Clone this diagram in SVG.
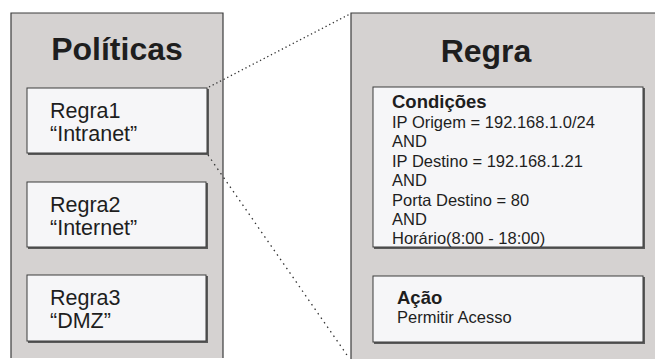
<svg xmlns="http://www.w3.org/2000/svg" width="655" height="359" viewBox="0 0 655 359">
<style>
.panel{fill:#d5d2d1}
.edge{stroke:#3c3c3c;stroke-width:1.2;fill:none}
.box{fill:#f6f6f8;stroke:#3c3c3c;stroke-width:1}
.shadow{fill:#5a5a5a}
.title{font-family:"Liberation Sans",Arial,sans-serif;font-weight:bold;font-size:32px;fill:#1e1e1e;text-anchor:middle}
.lbl{font-family:"Liberation Sans",Arial,sans-serif;font-size:21.5px;fill:#1e1e1e}
.cond{font-family:"Liberation Sans",Arial,sans-serif;font-size:16.5px;fill:#1e1e1e}
.b{font-weight:bold;font-size:18.5px}
.dot{stroke:#333;stroke-width:1.3;fill:none}
</style>
<rect width="655" height="359" fill="#ffffff"/>
<g id="politicas">
<rect class="panel" x="11" y="13" width="212" height="345"/>
<path class="edge" d="M11,358 V13 H223 V358"/>
<text class="title" x="117" y="60">Políticas</text>
</g>
<g id="regra-panel">
<rect class="panel" x="351" y="13" width="304" height="346"/>
<path class="edge" d="M351,359 V13 H655"/>
<text class="title" x="486" y="62">Regra</text>
</g>
<g id="regra1">
<rect class="shadow" x="28" y="89" width="181" height="66"/>
<rect class="box" x="27" y="88" width="180" height="65"/>
<text class="lbl" x="50" y="118">Regra1</text>
<text class="lbl" x="50" y="141">“Intranet”</text>
</g>
<g id="regra2">
<rect class="shadow" x="28" y="183" width="180" height="66"/>
<rect class="box" x="27" y="182" width="179" height="65"/>
<text class="lbl" x="50" y="212">Regra2</text>
<text class="lbl" x="50" y="235">“Internet”</text>
</g>
<g id="regra3">
<rect class="shadow" x="28" y="276" width="180" height="67"/>
<rect class="box" x="27" y="275" width="179" height="66"/>
<text class="lbl" x="50" y="305">Regra3</text>
<text class="lbl" x="50" y="328">“DMZ”</text>
</g>
<g id="condicoes">
<rect class="shadow" x="374" y="88" width="271" height="161"/>
<rect class="box" x="373" y="87" width="270" height="160"/>
<text class="cond b" x="392" y="108">Condições</text>
<text class="cond" x="392" y="127.5">IP Origem = 192.168.1.0/24</text>
<text class="cond" x="392" y="147">AND</text>
<text class="cond" x="392" y="166.5">IP Destino = 192.168.1.21</text>
<text class="cond" x="392" y="186">AND</text>
<text class="cond" x="392" y="205.5">Porta Destino = 80</text>
<text class="cond" x="392" y="225">AND</text>
<text class="cond" x="392" y="244">Horário(8:00 - 18:00)</text>
</g>
<g id="acao">
<rect class="shadow" x="374" y="277" width="271" height="67"/>
<rect class="box" x="373" y="276" width="270" height="66"/>
<text class="cond b" x="397" y="304">Ação</text>
<text class="cond" x="397" y="323">Permitir Acesso</text>
</g>
<g id="connectors">
<line class="dot" x1="209" y1="87" x2="350" y2="14" stroke-dasharray="1.3 2.8"/>
<line class="dot" x1="208" y1="155" x2="349" y2="358" stroke-dasharray="1.5 4"/>
</g>
</svg>
